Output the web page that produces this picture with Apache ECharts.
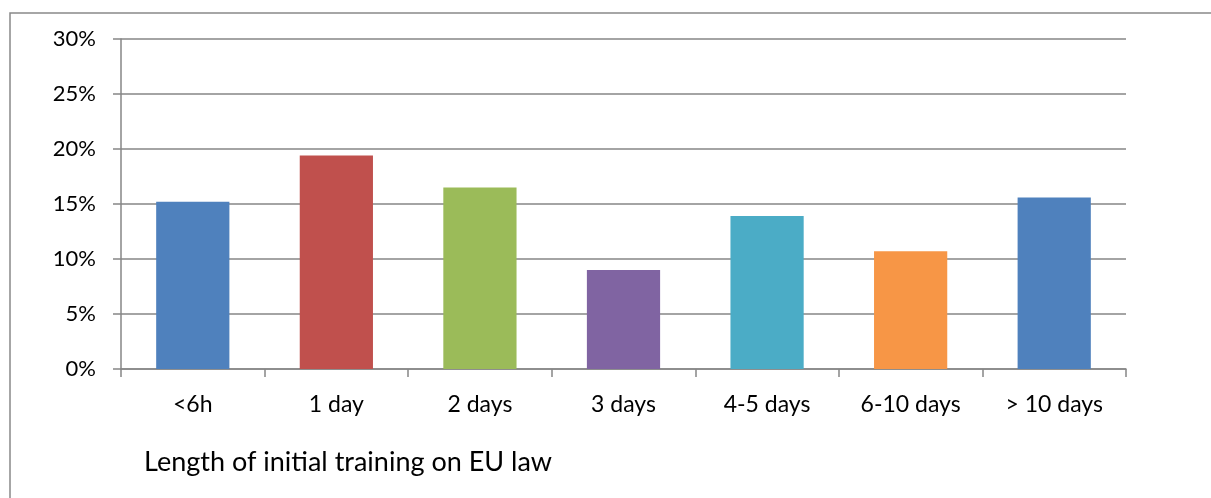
<!DOCTYPE html>
<html>
<head>
<meta charset="utf-8">
<script src="https://cdn.jsdelivr.net/npm/echarts@6/dist/echarts.min.js"></script>
<style>
html,body{margin:0;padding:0;background:#fff;}
#chart{width:1211px;height:498px;}
</style>
</head>
<body>
<div id="chart"></div>
<script>
const categories = ["<6h", "1 day", "2 days", "3 days", "4-5 days", "6-10 days", "> 10 days"];
const values = [15.2, 19.4, 16.5, 9.0, 13.9, 10.7, 15.6];
const barColors = ["#4F81BD", "#C0504D", "#9BBB59", "#8064A2", "#4BACC6", "#F79646", "#4F81BD"];
const axisTitle = "Length of initial training on EU law";
const yTicks = { min: 0, max: 30, interval: 5 };

const chart = echarts.init(document.getElementById('chart'), null, { renderer: 'canvas' });
const FONT = 'Lato, "Open Sans", sans-serif';
chart.setOption({
  animation: false,
  backgroundColor: '#ffffff',
  grid: { left: 121, right: 85, top: 39, bottom: 129 },
  graphic: [
    { type: 'rect', shape: { x: 10, y: 13, width: 1400, height: 700 },
      style: { fill: 'none', stroke: '#898989', lineWidth: 1.5 }, silent: true, z: -10 },
    { type: 'text', left: 144, top: 449,
      style: { text: axisTitle, font: '27px ' + FONT, fill: '#000' } }
  ],
  xAxis: {
    type: 'category',
    data: categories,
    axisLine: { lineStyle: { color: '#868686', width: 1.5 } },
    axisTick: { show: true, length: 8, alignWithLabel: false, lineStyle: { color: '#868686', width: 1.5 } },
    axisLabel: { color: '#000', fontSize: 23, fontFamily: FONT, margin: 24, interval: 0 },
    splitLine: { show: false }
  },
  yAxis: {
    type: 'value',
    min: yTicks.min, max: yTicks.max, interval: yTicks.interval,
    axisLine: { show: true, lineStyle: { color: '#868686', width: 1.5 } },
    axisTick: { show: true, length: 8, lineStyle: { color: '#868686', width: 1.5 } },
    axisLabel: { color: '#000', fontSize: 22, fontFamily: FONT, margin: 25, formatter: '{value}%' },
    splitLine: { show: true, lineStyle: { color: '#868686', width: 1.5 } }
  },
  series: [{
    type: 'bar',
    data: values.map((v, i) => ({ value: v, itemStyle: { color: barColors[i] } })),
    barWidth: '51%'
  }]
});
</script>
</body>
</html>
